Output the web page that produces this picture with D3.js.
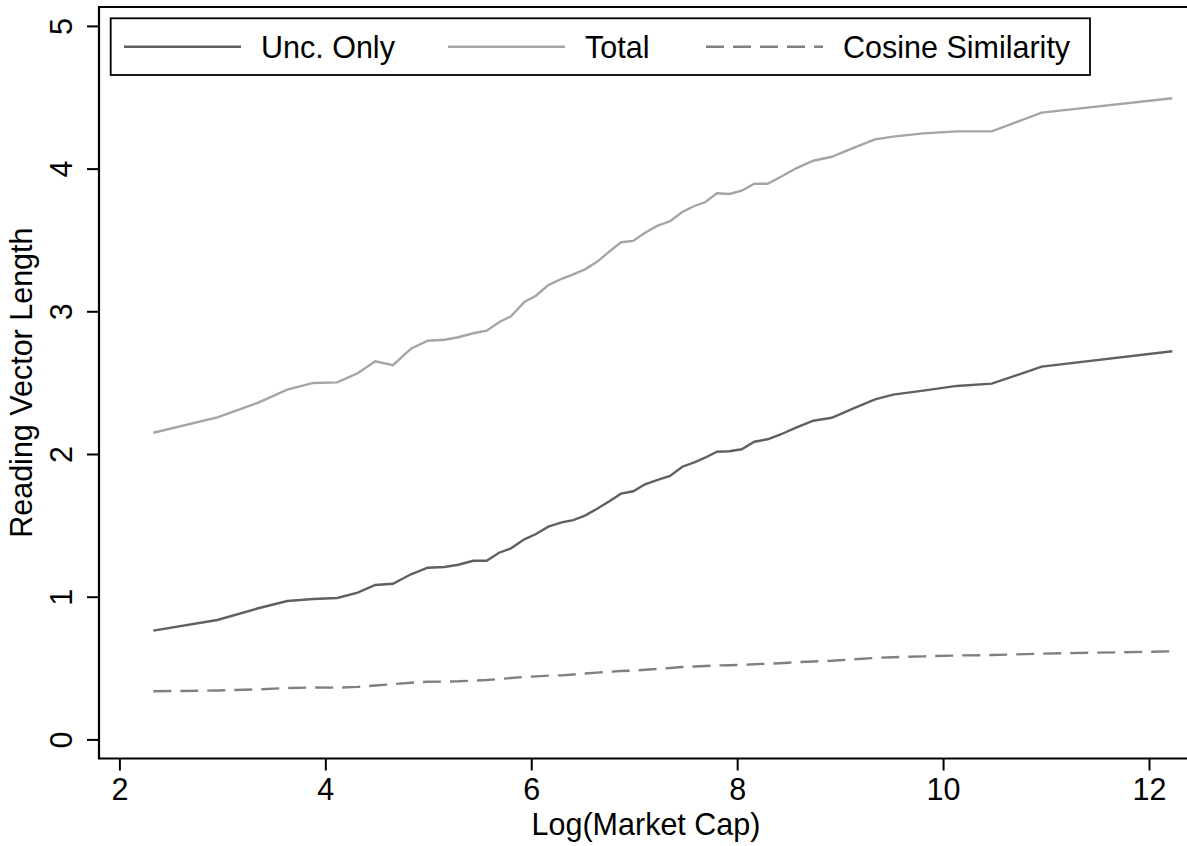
<!DOCTYPE html>
<html>
<head>
<meta charset="utf-8">
<script src="https://cdn.jsdelivr.net/npm/d3@7"></script>
<style>
  body { margin: 0; background: #fff; }
  svg text { font-family: "Liberation Sans", Arial, sans-serif; fill: #000; }
</style>
</head>
<body>
<div id="chart"></div>
<script>
// x positions (Log market cap bins) shared by all three series
const logCap = [2.329, 2.951, 3.349, 3.631, 3.883, 4.116, 4.314, 4.485, 4.657, 4.832,
  4.994, 5.156, 5.291, 5.437, 5.567, 5.687, 5.803, 5.933, 6.046, 6.166,
  6.296, 6.408, 6.522, 6.636, 6.755, 6.872, 6.991, 7.105, 7.228, 7.348,
  7.467, 7.584, 7.688, 7.804, 7.924, 8.044, 8.167, 8.296, 8.416, 8.578,
  8.740, 8.918, 9.130, 9.339, 9.516, 9.808, 10.132, 10.473, 10.958, 12.226];

const uncOnly = [0.762, 0.837, 0.919, 0.970, 0.984, 0.991, 1.028, 1.082, 1.091, 1.157,
  1.203, 1.208, 1.224, 1.252, 1.252, 1.308, 1.339, 1.402, 1.439, 1.491,
  1.521, 1.537, 1.568, 1.615, 1.667, 1.722, 1.739, 1.788, 1.818, 1.846,
  1.911, 1.942, 1.974, 2.016, 2.019, 2.033, 2.086, 2.103, 2.135, 2.187,
  2.233, 2.254, 2.320, 2.383, 2.416, 2.444, 2.477, 2.493, 2.612, 2.720];

const total = [2.149, 2.257, 2.360, 2.451, 2.498, 2.502, 2.566, 2.650, 2.622, 2.738,
  2.794, 2.801, 2.818, 2.846, 2.864, 2.923, 2.965, 3.065, 3.109, 3.184,
  3.228, 3.259, 3.294, 3.345, 3.416, 3.484, 3.493, 3.551, 3.600, 3.631,
  3.696, 3.738, 3.764, 3.827, 3.822, 3.845, 3.894, 3.894, 3.939, 4.004,
  4.055, 4.083, 4.146, 4.205, 4.224, 4.247, 4.261, 4.261, 4.392, 4.493];

const cosine = [0.337, 0.343, 0.351, 0.360, 0.364, 0.363, 0.368, 0.378, 0.387, 0.397,
  0.404, 0.405, 0.407, 0.412, 0.416, 0.423, 0.430, 0.438, 0.442, 0.447,
  0.449, 0.455, 0.462, 0.468, 0.474, 0.479, 0.482, 0.488, 0.494, 0.500,
  0.507, 0.511, 0.514, 0.518, 0.520, 0.522, 0.527, 0.530, 0.534, 0.541,
  0.546, 0.551, 0.561, 0.571, 0.576, 0.582, 0.588, 0.591, 0.601, 0.617];

const xTicks = [2, 4, 6, 8, 10, 12];
const yTicks = [0, 1, 2, 3, 4, 5];

const seriesNames = ["Unc. Only", "Total", "Cosine Similarity"];
const seriesColors = ["#606060", "#a5a5a5", "#808080"];
const seriesDash = [null, null, "18,9"];

const svgWidth = 1187;
const svgHeight = 846;

// plot region edges
const plotLeft = 99, plotTop = 7, plotBottom = 758.5, plotRight = 1187;

let svg = d3.select("#chart")
  .append("svg")
  .attr("width", svgWidth)
  .attr("height", svgHeight);

let x = d3.scaleLinear().domain([2, 12]).range([119.4, 1149]);
let y = d3.scaleLinear().domain([0, 5]).range([739.4, 25.9]);

const fontSize = 30.5;

// frame: top border, left and bottom axis lines
svg.append("path")
  .attr("d", `M${plotRight},${plotTop} H${plotLeft} V${plotBottom} H${plotRight}`)
  .attr("fill", "none")
  .attr("stroke", "#000")
  .attr("stroke-width", 2.2);

// y axis
let yAxis = svg.append("g")
  .attr("transform", `translate(${plotLeft},0)`)
  .call(d3.axisLeft(y).tickValues(yTicks).tickFormat(d3.format("d")).tickSize(12).tickSizeOuter(0));
yAxis.select(".domain").remove();
yAxis.selectAll("line").attr("stroke", "#000").attr("stroke-width", 2);
yAxis.selectAll("text")
  .attr("x", null)
  .attr("dy", null)
  .attr("text-anchor", "middle")
  .attr("transform", "translate(-27.5,0) rotate(-90)")
  .style("font-size", fontSize + "px")
  .style("font-family", "Liberation Sans, Arial, sans-serif");

// x axis
let xAxis = svg.append("g")
  .attr("transform", `translate(0,${plotBottom})`)
  .call(d3.axisBottom(x).tickValues(xTicks).tickSize(12).tickSizeOuter(0));
xAxis.select(".domain").remove();
xAxis.selectAll("line").attr("stroke", "#000").attr("stroke-width", 2);
xAxis.selectAll("text")
  .attr("y", 41.5)
  .attr("dy", null)
  .style("font-size", fontSize + "px")
  .style("font-family", "Liberation Sans, Arial, sans-serif");

// axis titles
svg.append("text")
  .attr("x", 646)
  .attr("y", 835)
  .attr("text-anchor", "middle")
  .style("font-size", fontSize + "px")
  .text("Log(Market Cap)");

svg.append("text")
  .attr("transform", `translate(32,${(y(0) + y(5)) / 2}) rotate(-90)`)
  .attr("text-anchor", "middle")
  .style("font-size", fontSize + "px")
  .text("Reading Vector Length");

// lines
const allSeries = [uncOnly, total, cosine];
let lineGen = d3.line()
  .x(function (d, i) { return x(logCap[i]); })
  .y(function (d) { return y(d); });

svg.append("g").selectAll("path")
  .data(allSeries)
  .enter().append("path")
  .attr("d", lineGen)
  .attr("fill", "none")
  .attr("stroke", function (d, i) { return seriesColors[i]; })
  .attr("stroke-width", 2.4)
  .attr("stroke-dasharray", function (d, i) { return seriesDash[i]; });

// legend box
let legend = svg.append("g").attr("class", "legend");
legend.append("rect")
  .attr("x", 110.7)
  .attr("y", 18.3)
  .attr("width", 979.3)
  .attr("height", 56.7)
  .attr("fill", "#fff")
  .attr("stroke", "#000")
  .attr("stroke-width", 1.8);

const keyStarts = [124, 448, 706];
const keyLen = 117;
legend.selectAll(".legend-key")
  .data(seriesNames)
  .enter().append("line")
  .attr("class", "legend-key")
  .attr("x1", function (d, i) { return keyStarts[i]; })
  .attr("x2", function (d, i) { return keyStarts[i] + keyLen; })
  .attr("y1", 46.7)
  .attr("y2", 46.7)
  .attr("stroke", function (d, i) { return seriesColors[i]; })
  .attr("stroke-width", 2.4)
  .attr("stroke-dasharray", function (d, i) { return seriesDash[i]; });

legend.selectAll(".legend-text")
  .data(seriesNames)
  .enter().append("text")
  .attr("class", "legend-text")
  .attr("x", function (d, i) { return keyStarts[i] + keyLen + 20; })
  .attr("y", 58)
  .style("font-size", fontSize + "px")
  .text(function (d) { return d; });
</script>
</body>
</html>
